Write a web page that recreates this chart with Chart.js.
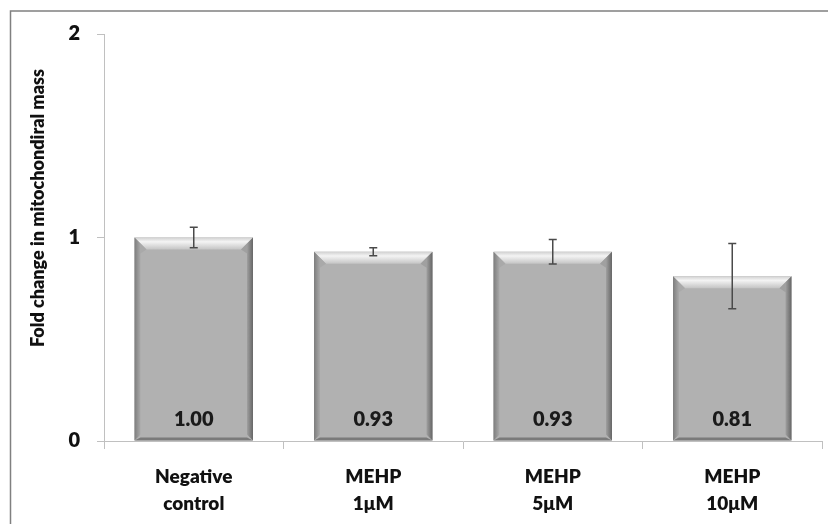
<!DOCTYPE html>
<html>
<head>
<meta charset="utf-8">
<script src="https://cdn.jsdelivr.net/npm/chart.js@4.4.0/dist/chart.umd.min.js"></script>
<style>
  html, body { margin: 0; padding: 0; background: #fff; }
  #wrap { width: 828px; height: 524px; position: relative; }
</style>
</head>
<body>
<div id="wrap"><canvas id="chart" width="828" height="524"></canvas></div>
<script>
// data
const categories = [["Negative", "control"], ["MEHP", "1μM"], ["MEHP", "5μM"], ["MEHP", "10μM"]];
const foldChange = [1.00, 0.93, 0.93, 0.81];
const errors = [0.05, 0.02, 0.06, 0.16];
const yTicks = [0, 1, 2];
const yTitle = "Fold change in mitochondiral mass";

const FONT = "Lato, 'Open Sans', sans-serif";
const WEIGHT = "800";

// outer frame of the figure
const framePlugin = {
    id: "frame",
    beforeDraw(chart) {
        const c = chart.ctx;
        c.save();
        c.strokeStyle = "#808080";
        c.lineWidth = 1.5;
        c.beginPath();
        c.moveTo(10.5, 530);
        c.lineTo(10.5, 11);
        c.lineTo(830, 11);
        c.stroke();
        c.restore();
    }
};

// bevelled bars, error bars, value labels, y title
const bevelPlugin = {
    id: "bevel",
    afterDatasetsDraw(chart) {
        const c = chart.ctx;
        const meta = chart.getDatasetMeta(0);
        const y = chart.scales.y;
        meta.data.forEach((bar, i) => {
            const L = bar.x - bar.width / 2, R = bar.x + bar.width / 2;
            const T = bar.y, B = bar.base;
            const s = 6, t = 12;
            c.save();
            // top band
            let g = c.createLinearGradient(0, T, 0, T + t);
            g.addColorStop(0, "#d0d0d0");
            g.addColorStop(0.35, "#f4f4f4");
            g.addColorStop(1, "#c4c4c4");
            c.fillStyle = g;
            c.beginPath();
            c.moveTo(L, T); c.lineTo(R, T); c.lineTo(R - t, T + t); c.lineTo(L + t, T + t);
            c.closePath(); c.fill();
            // left edge
            g = c.createLinearGradient(L, 0, L + s, 0);
            g.addColorStop(0, "#7d7d7d");
            g.addColorStop(1, "#a9a9a9");
            c.fillStyle = g;
            c.beginPath();
            c.moveTo(L, T); c.lineTo(L + t, T + t); c.lineTo(L + s, T + t + 4);
            c.lineTo(L + s, B - s); c.lineTo(L, B);
            c.closePath(); c.fill();
            // right edge
            g = c.createLinearGradient(R - s, 0, R, 0);
            g.addColorStop(0, "#a0a0a0");
            g.addColorStop(1, "#666666");
            c.fillStyle = g;
            c.beginPath();
            c.moveTo(R, T); c.lineTo(R - t, T + t); c.lineTo(R - s, T + t + 4);
            c.lineTo(R - s, B - s); c.lineTo(R, B);
            c.closePath(); c.fill();
            // bottom edge
            c.fillStyle = "#7a7a7a";
            c.beginPath();
            c.moveTo(L, B); c.lineTo(R, B); c.lineTo(R - s, B - 3); c.lineTo(L + s, B - 3);
            c.closePath(); c.fill();

            // error bar
            const yHi = y.getPixelForValue(foldChange[i] + errors[i]);
            const yLo = y.getPixelForValue(foldChange[i] - errors[i]);
            c.strokeStyle = "#4a4a4a";
            c.lineWidth = 1.5;
            c.beginPath();
            c.moveTo(bar.x, yHi); c.lineTo(bar.x, yLo);
            c.moveTo(bar.x - 4, yHi); c.lineTo(bar.x + 4, yHi);
            c.moveTo(bar.x - 4, yLo); c.lineTo(bar.x + 4, yLo);
            c.stroke();

            // value label
            c.fillStyle = "#1a1a1a";
            c.font = WEIGHT + " 20px " + FONT;
            c.textAlign = "center";
            c.textBaseline = "middle";
            c.fillText(foldChange[i].toFixed(2), bar.x, B - 21);
            c.restore();
        });

        // y axis title
        c.save();
        c.translate(38, 208);
        c.rotate(-Math.PI / 2);
        c.fillStyle = "#111";
        c.font = WEIGHT + " 18px " + FONT;
        c.textAlign = "center";
        c.textBaseline = "middle";
        c.fillText(yTitle, 0, 0);
        c.restore();
    }
};

const ctx = document.getElementById("chart").getContext("2d");
new Chart(ctx, {
    type: "bar",
    data: {
        labels: categories,
        datasets: [{
            data: foldChange,
            backgroundColor: "#b1b1b1",
            borderWidth: 0,
            barPercentage: 0.66,
            categoryPercentage: 1
        }]
    },
    options: {
        responsive: false,
        animation: false,
        layout: { padding: { left: 0, right: 6, top: 34, bottom: 0 } },
        plugins: {
            legend: { display: false },
            tooltip: { enabled: false }
        },
        scales: {
            x: {
                grid: { offset: true, drawOnChartArea: false, color: "#c0c0c0", tickLength: 8 },
                border: { color: "#c0c0c0" },
                ticks: {
                    color: "#111",
                    padding: 14,
                    maxRotation: 0,
                    font: { family: FONT, weight: WEIGHT, size: 19, lineHeight: 1.45 }
                },
                afterFit: s => { s.height = 83; }
            },
            y: {
                min: 0,
                max: 2,
                afterBuildTicks: s => { s.ticks = yTicks.map(v => ({ value: v })); },
                grid: { drawOnChartArea: false, color: "#c0c0c0", tickLength: 7 },
                border: { color: "#c0c0c0" },
                ticks: {
                    color: "#111",
                    padding: 17,
                    font: { family: FONT, weight: WEIGHT, size: 20 }
                },
                afterFit: s => { s.width = 104; }
            }
        }
    },
    plugins: [framePlugin, bevelPlugin]
});
</script>
</body>
</html>
